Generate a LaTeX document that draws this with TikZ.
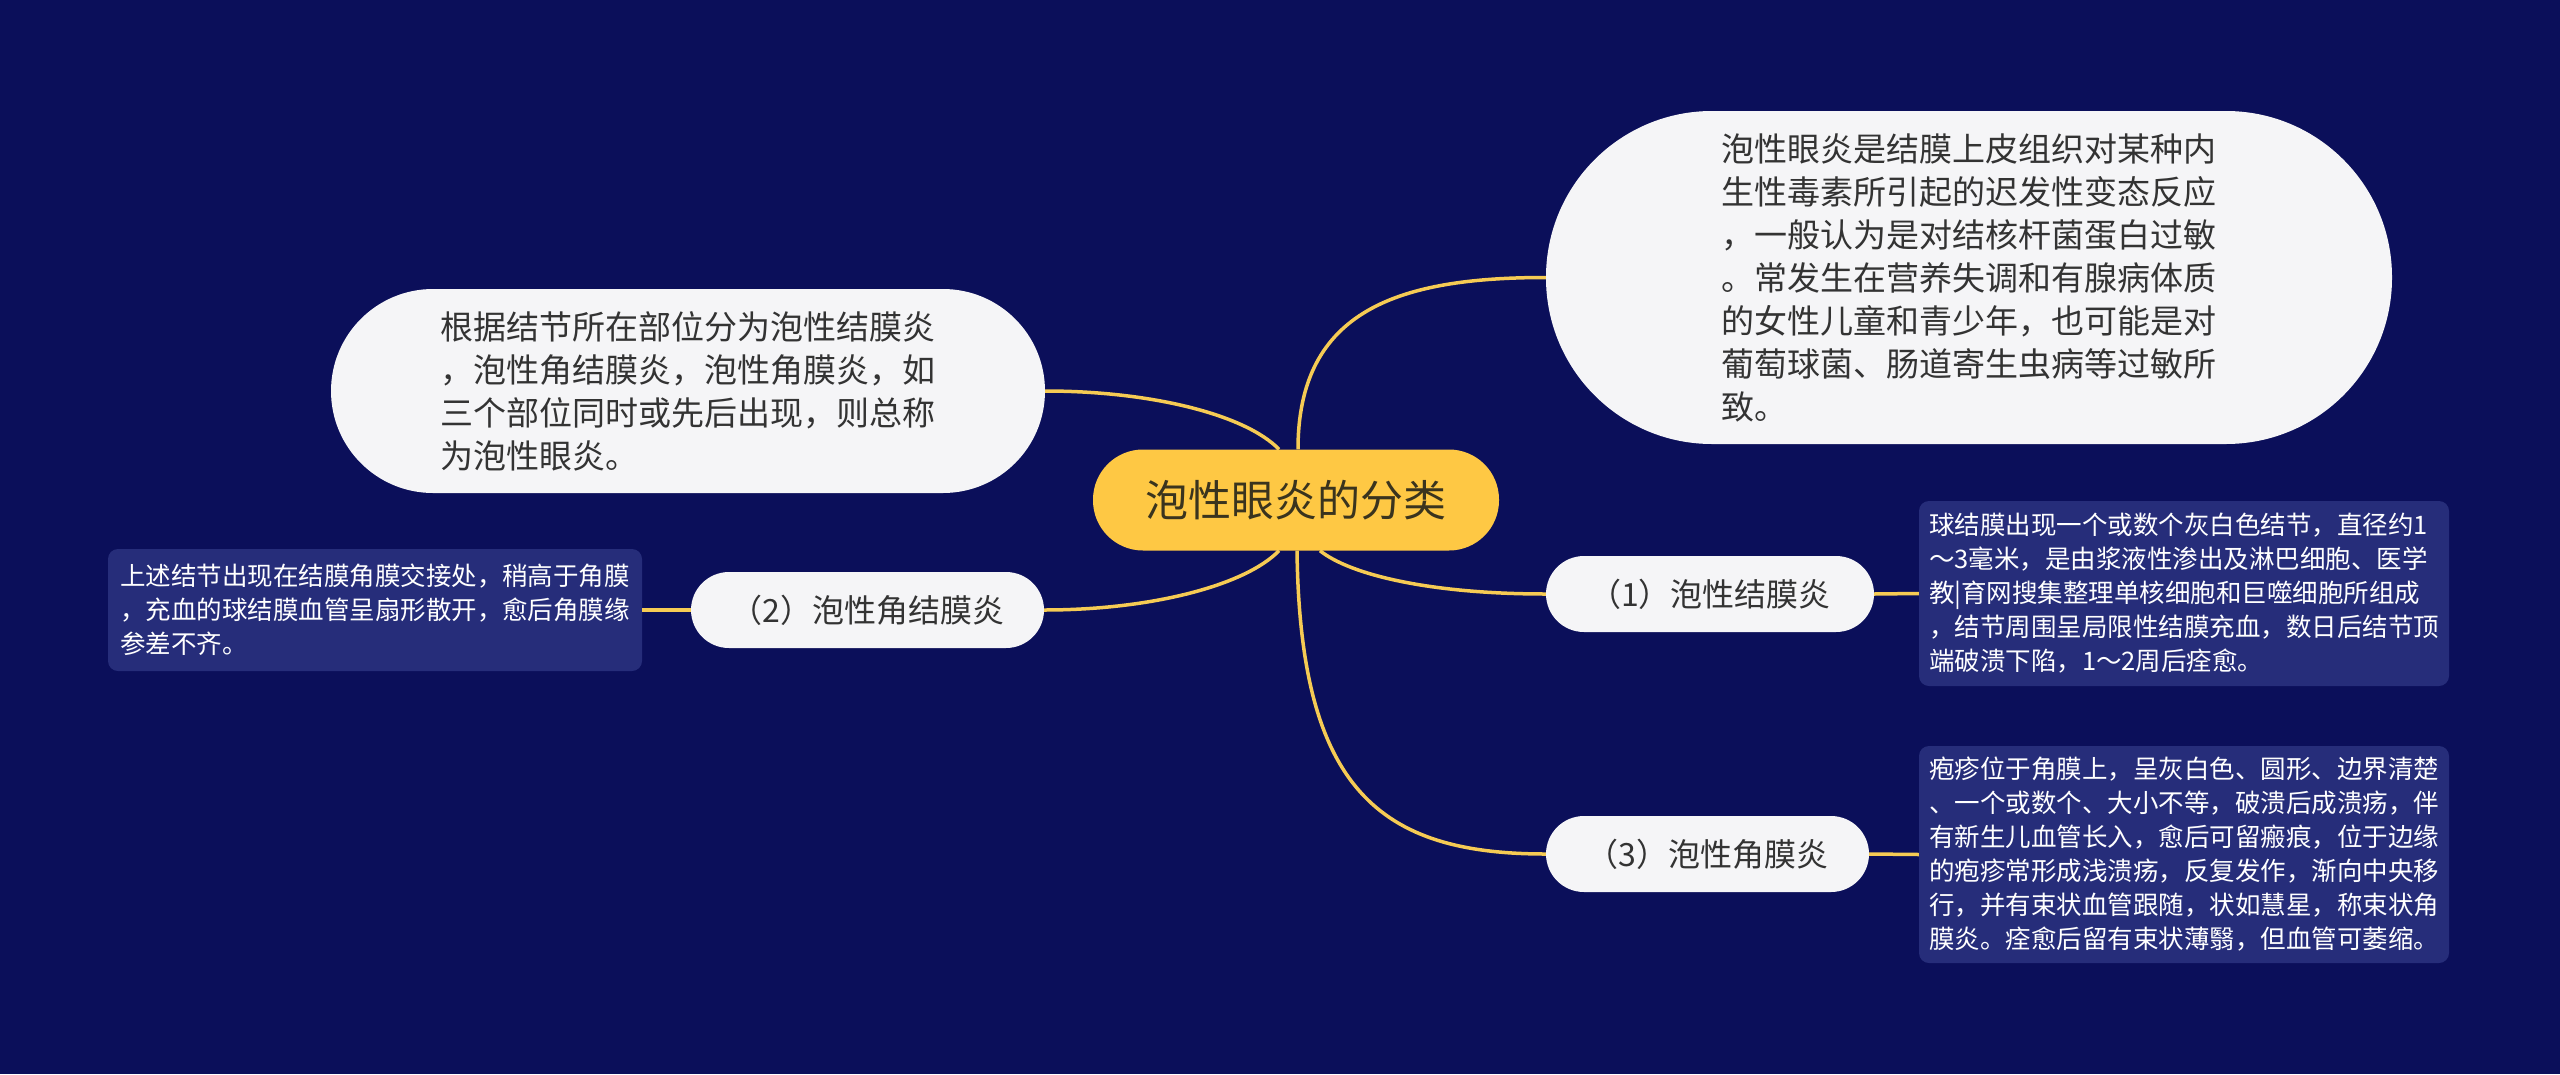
\documentclass[tikz,border=0pt]{standalone}
\usepackage{fontspec}
\newfontfamily\cjk{Noto Sans CJK SC}
\definecolor{bgnavy}{RGB}{11,15,90}
\definecolor{rootyellow}{RGB}{254,200,68}
\definecolor{linkyellow}{RGB}{246,203,84}
\definecolor{bubblewhite}{RGB}{245,245,247}
\definecolor{notebox}{RGB}{38,45,122}
\definecolor{darktext}{RGB}{51,51,51}
\definecolor{roottext}{RGB}{58,52,30}

\begin{document}
\begin{tikzpicture}[x=1pt, y=-1pt,
  root/.style = {fill=rootyellow, text=roottext, rounded corners=50pt, minimum width=406pt, minimum height=101pt, inner sep=0pt, font=\cjk\fontsize{43}{52}\selectfont},
  bubble/.style = {fill=bubblewhite, text=darktext, inner sep=0pt, align=left, font=\cjk\fontsize{33}{43}\selectfont},
  branch/.style = {fill=bubblewhite, text=darktext, rounded corners=38pt, minimum height=76pt, inner sep=0pt, font=\cjk\fontsize{32}{40}\selectfont},
  note/.style = {fill=notebox, text=white, rounded corners=10pt, inner sep=0pt, align=left, font=\cjk\fontsize{25.5}{34}\selectfont},
  link/.style = {draw=linkyellow, line width=3.5pt},
  ]
  \fill[bgnavy] (0,0) rectangle (2560,1074); % background

  \node[root] (root) at (1296,500) {泡性眼炎的分类};

  % the two big bubbles
  \node[bubble, minimum width=846pt, minimum height=333pt, rounded corners=166pt] (cause) at (1969,277.5)
    {泡性眼炎是结膜上皮组织对某种内\\生性毒素所引起的迟发性变态反应\\，一般认为是对结核杆菌蛋白过敏\\。常发生在营养失调和有腺病体质\\的女性儿童和青少年，也可能是对\\葡萄球菌、肠道寄生虫病等过敏所\\致。};
  \node[bubble, minimum width=714pt, minimum height=204pt, rounded corners=102pt] (sites) at (688,391)
    {根据结节所在部位分为泡性结膜炎\\，泡性角结膜炎，泡性角膜炎，如\\三个部位同时或先后出现，则总称\\为泡性眼炎。};

  % branches
  \node[branch, minimum width=328pt] (conj) at (1710,594) {（1）泡性结膜炎};
  \node[branch, minimum width=353pt] (kerconj) at (867.5,610) {（2）泡性角结膜炎};
  \node[branch, minimum width=323pt] (kera) at (1707.5,854) {（3）泡性角膜炎};

  % notes
  \node[note, minimum width=530pt, minimum height=185pt] (conjnote) at (2184,593.5)
    {球结膜出现一个或数个灰白色结节，直径约1\\～3毫米，是由浆液性渗出及淋巴细胞、医学\\教|育网搜集整理单核细胞和巨噬细胞所组成\\，结节周围呈局限性结膜充血，数日后结节顶\\端破溃下陷，1～2周后痊愈。};
  \node[note, minimum width=534pt, minimum height=122pt] (kerconjnote) at (375,610)
    {上述结节出现在结膜角膜交接处，稍高于角膜\\，充血的球结膜血管呈扇形散开，愈后角膜缘\\参差不齐。};
  \node[note, minimum width=530pt, minimum height=217pt] (keranote) at (2184,854.5)
    {疱疹位于角膜上，呈灰白色、圆形、边界清楚\\、一个或数个、大小不等，破溃后成溃疡，伴\\有新生儿血管长入，愈后可留瘢痕，位于边缘\\的疱疹常形成浅溃疡，反复发作，渐向中央移\\行，并有束状血管跟随，状如慧星，称束状角\\膜炎。痊愈后留有束状薄翳，但血管可萎缩。};

  % connectors
  \draw[link] ([xshift=2pt]root.north) .. controls +(0,-140) and +(-146,0) .. (cause.west);
  \draw[link] ([xshift=-17pt]root.north) .. controls +(-34,-35) and +(105,0) .. (sites.east);
  \draw[link] ([xshift=-17pt]root.south) .. controls +(-34,35) and +(106,0) .. (kerconj.east);
  \draw[link] ([xshift=24pt]root.south) .. controls +(30,24) and +(-116,0) .. (conj.west);
  \draw[link] ([xshift=1pt]root.south) .. controls +(3,239) and +(-166,0) .. (kera.west);

  \draw[link] (conj.east) -- (conjnote.west);
  \draw[link] (kerconj.west) -- (kerconjnote.east);
  \draw[link] (kera.east) -- (keranote.west);
\end{tikzpicture}
\end{document}
